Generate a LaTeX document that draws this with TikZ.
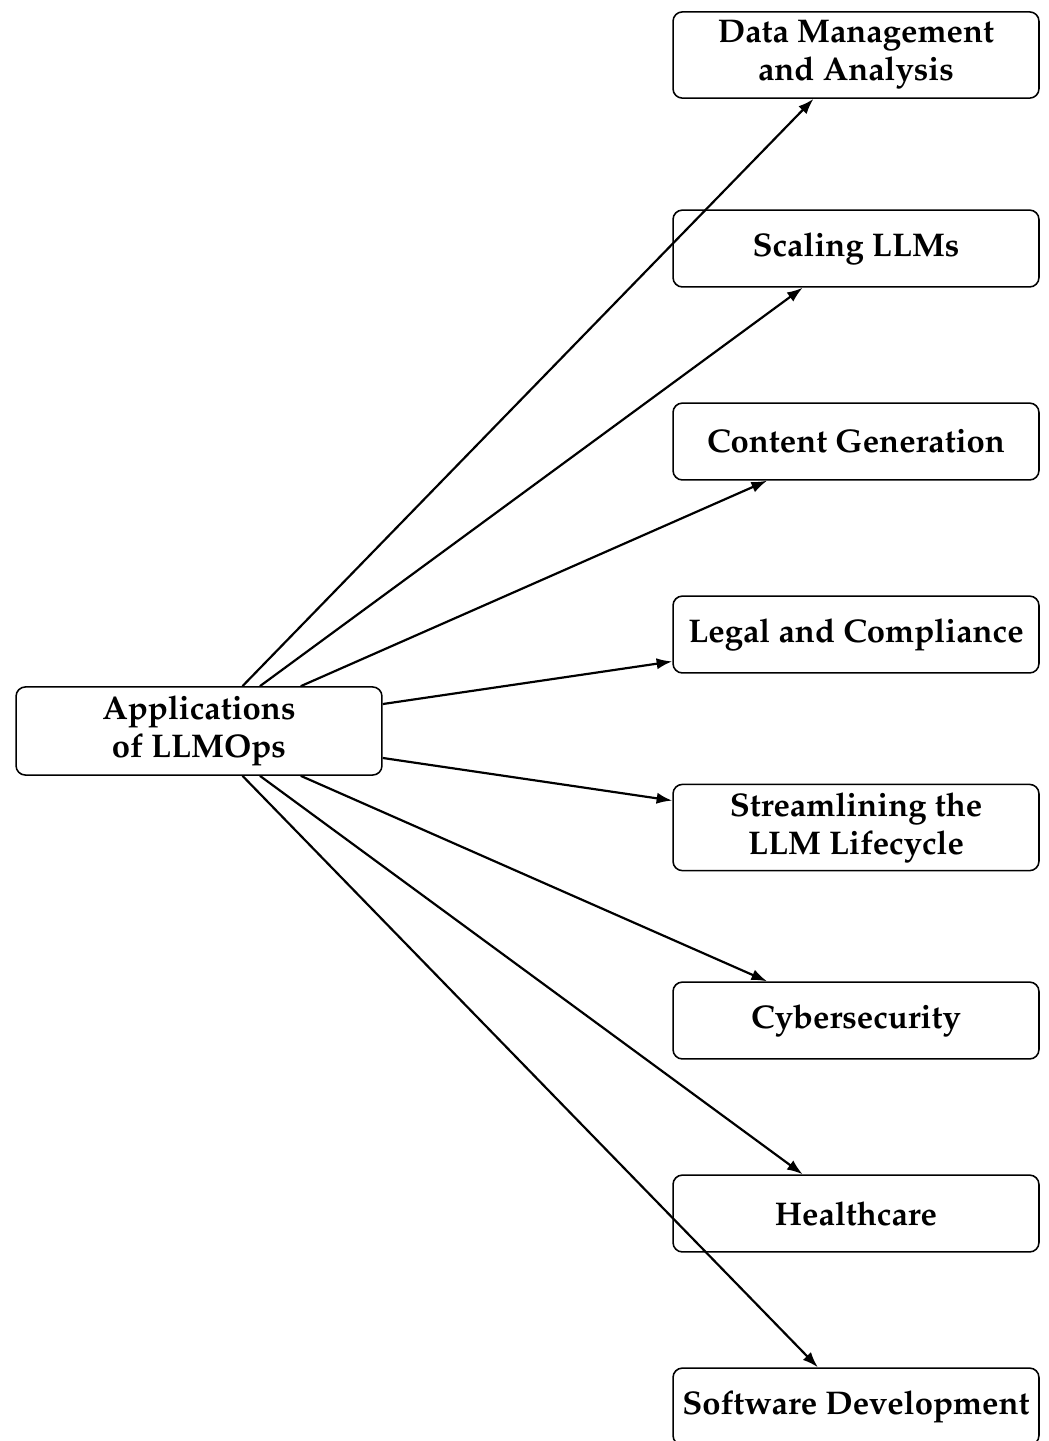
\documentclass[tikz,border=0pt]{standalone}
\usepackage[T1]{fontenc}
\usepackage{mathpazo}
\usetikzlibrary{arrows.meta}
\begin{document}
\begin{tikzpicture}[x=0.32pt,y=-0.32pt,
  box/.style={draw,line width=0.5pt,rounded corners=3pt,align=center,
    minimum width=117.1pt,minimum height=24.6pt,inner sep=0pt,
    font=\fontsize{10.5}{12.2}\selectfont\bfseries},
  tall/.style={minimum height=27.6pt},
  conn/.style={-{Latex[length=5pt,width=3.6pt]},line width=0.7pt}]
\useasboundingbox (0,0) rectangle (1049,1441);
\node[box,tall,minimum height=28.2pt] (root) at (199,731) {Applications\\of LLMOps};
\node[box,tall] (data) at (856,55) {Data Management\\and Analysis};
\node[box] (scale) at (856,248.5) {Scaling LLMs};
\node[box] (content) at (856,441.5) {Content Generation};
\node[box] (legal) at (856,634.5) {Legal and Compliance};
\node[box,tall] (stream) at (856,827.5) {Streamlining the\\LLM Lifecycle};
\node[box] (cyber) at (856,1020.5) {Cybersecurity};
\node[box] (health) at (856,1213.5) {Healthcare};
\node[box] (soft) at (856,1406.5) {Software Development};
\foreach \t in {data,scale,content,legal,stream,cyber,health,soft}
  \draw[conn] (root) -- (\t);
\end{tikzpicture}
\end{document}
